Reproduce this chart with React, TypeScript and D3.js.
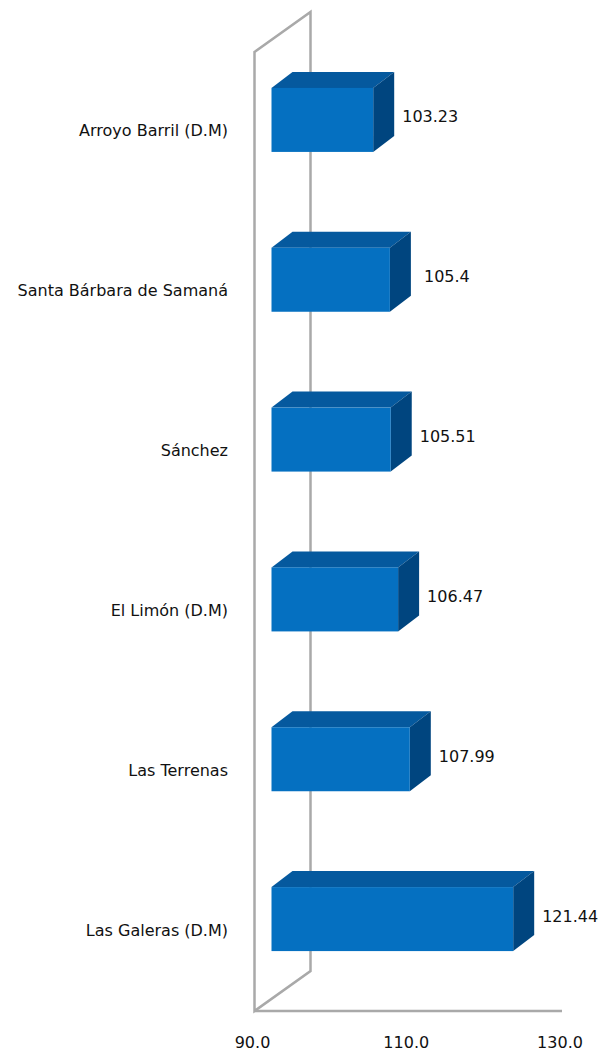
import { useEffect, useRef } from 'react';
import * as d3 from 'd3';

// datos del gráfico (de arriba hacia abajo)
const categories = [
    'Arroyo Barril (D.M)',
    'Santa Bárbara de Samaná',
    'Sánchez',
    'El Limón (D.M)',
    'Las Terrenas',
    'Las Galeras (D.M)',
];
const values = [103.23, 105.4, 105.51, 106.47, 107.99, 121.44];
const valueLabels = ['103.23', '105.4', '105.51', '106.47', '107.99', '121.44'];
const xTicks = [90, 110, 130];
const xTickLabels = ['90.0', '110.0', '130.0'];

export default function App() {
    const svgRef = useRef<SVGSVGElement>(null);

    useEffect(() => {
        document.body.style.margin = '0';
        if (!svgRef.current) return;
        const svg = d3.select(svgRef.current);
        svg.selectAll('*').remove();

        const font = '"DejaVu Sans", sans-serif';

        // plano frontal
        const x = d3.scaleLinear().domain([90, 130]).range([254.5, 562]);
        const y = d3.scaleBand<string>().domain(categories).range([52, 1011]);

        // profundidad 3D
        const depth = { dx: 56, dy: -40 };
        const barFront = { dx: 17, dy: -12 };
        const barBack = { dx: 38, dy: -28 };
        const barH = 64;

        const wallColor = '#a9a9a9';
        const x0 = x(90);
        const yTop = 52;
        const yBot = 1011;

        // pared del fondo
        const wall = svg.append('g').attr('fill', 'none').attr('stroke', wallColor).attr('stroke-width', 2.5);
        wall.append('path').attr('d', `M${x0},${yBot} L${x0},${yTop} L${x0 + depth.dx},${yTop + depth.dy} L${x0 + depth.dx},${yBot + depth.dy} Z`);
        wall.append('line')
            .attr('x1', x0).attr('y1', yBot)
            .attr('x2', x(130)).attr('y2', yBot);

        // barras
        const bars = svg.append('g');
        categories.forEach((c, i) => {
            const v = values[i];
            const cy = (y(c) ?? 0) + y.bandwidth() / 2;
            const fx0 = x0 + barFront.dx;
            const fx1 = x(v) + barFront.dx;
            const fy0 = cy - barH / 2 + barFront.dy;
            const fy1 = cy + barH / 2 + barFront.dy;
            const ox = barBack.dx - barFront.dx;
            const oy = barBack.dy - barFront.dy;

            // cara superior
            bars.append('path')
                .attr('d', `M${fx0},${fy0} L${fx0 + ox},${fy0 + oy} L${fx1 + ox},${fy0 + oy} L${fx1},${fy0} Z`)
                .attr('fill', '#05599e');
            // cara lateral
            bars.append('path')
                .attr('d', `M${fx1},${fy0} L${fx1 + ox},${fy0 + oy} L${fx1 + ox},${fy1 + oy} L${fx1},${fy1} Z`)
                .attr('fill', '#00457f');
            // cara frontal
            bars.append('rect')
                .attr('x', fx0).attr('y', fy0)
                .attr('width', fx1 - fx0).attr('height', fy1 - fy0)
                .attr('fill', '#0570c1');

            // etiqueta de valor
            bars.append('text')
                .attr('x', fx1 + 57)
                .attr('y', cy + barFront.dy - 2)
                .attr('text-anchor', 'middle')
                .attr('dominant-baseline', 'middle')
                .attr('font-family', font)
                .attr('font-size', 16)
                .attr('fill', '#111')
                .text(valueLabels[i]);
        });

        // etiquetas de categoría
        svg.append('g')
            .selectAll('text')
            .data(categories)
            .join('text')
            .attr('x', 228)
            .attr('y', d => (y(d) ?? 0) + y.bandwidth() / 2)
            .attr('text-anchor', 'end')
            .attr('dominant-baseline', 'middle')
            .attr('font-family', font)
            .attr('font-size', 16)
            .attr('fill', '#111')
            .text(d => d);

        // ticks del eje x
        svg.append('g')
            .selectAll('text')
            .data(xTicks)
            .join('text')
            .attr('x', d => x(d) - 2)
            .attr('y', 1048)
            .attr('text-anchor', 'middle')
            .attr('font-family', font)
            .attr('font-size', 16)
            .attr('fill', '#111')
            .text((d, i) => xTickLabels[i]);
    }, []);

    return <svg ref={svgRef} width={599} height={1055} style={{ display: 'block', background: '#fff' }} />;
}
